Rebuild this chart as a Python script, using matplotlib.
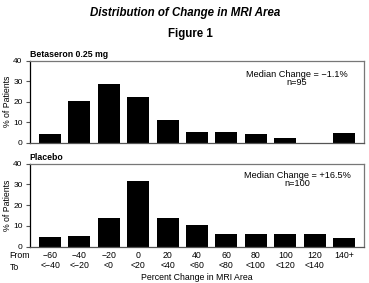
import matplotlib
matplotlib.use("Agg")
import matplotlib.pyplot as plt
from matplotlib import font_manager

fams = [f.name for f in font_manager.fontManager.ttflist]
narrow = 'Liberation Sans Narrow' if 'Liberation Sans Narrow' in fams else 'Liberation Sans'
plt.rcParams['font.family'] = [narrow, 'DejaVu Sans']

from_labels = ["\u221260", "\u221240", "\u221220", "0", "20", "40", "60", "80", "100", "120", "140+"]
to_labels = ["<\u221240", "<\u221220", "<0", "<20", "<40", "<60", "<80", "<100", "<120", "<140", ""]
betaseron = [4.2, 20.2, 28.5, 22.0, 11.0, 5.3, 5.3, 4.2, 2.3, 0, 4.6]
placebo = [4.5, 5.0, 13.8, 31.6, 13.8, 10.3, 6.1, 6.1, 6.1, 6.1, 4.2]
yticks = [0, 10, 20, 30, 40]
panels = [
    ("Betaseron 0.25 mg", betaseron, "Median Change = \u22121.1%\nn=95", 0.785),
    ("Placebo", placebo, "Median Change = +16.5%\nn=100", 0.81),
]

W, H = 369, 283
fig = plt.figure(figsize=(W / 100, H / 100), dpi=100)

fig.text(185 / W, 1 - 13 / H, "Distribution of Change in MRI Area", ha='center', va='center',
         fontsize=8.3, fontweight='bold', style='italic')
fig.text(190 / W, 1 - 34 / H, "Figure 1", ha='center', va='center', fontsize=8.3, fontweight='bold')

ax_boxes = [(60.5, 142.7), (163.5, 246.5)]
x0, x1 = 29.5, 364
xs = list(range(len(from_labels)))
axes = []
for (top, bot), (name, vals, med, my) in zip(ax_boxes, panels):
    ax = fig.add_axes([x0 / W, 1 - bot / H, (x1 - x0) / W, (bot - top) / H])
    ax.bar(xs, vals, width=0.75, color='black')
    ax.set_xlim(-0.7, 10.68)
    ax.set_ylim(0, 40)
    ax.set_yticks(yticks)
    ax.tick_params(axis='y', length=3, width=0.8, labelsize=6, pad=2, color='#555555')
    ax.tick_params(axis='x', length=0, labelsize=6.3, pad=3)
    for s in ax.spines.values():
        s.set_color('#777777')
        s.set_linewidth(0.9)
    ax.spines['left'].set_color('black')
    ax.spines['bottom'].set_color('#555555')
    fig.text(8 / W, 1 - (top + bot) / 2 / H, "% of Patients", rotation=90, ha='center',
             va='center', fontsize=6.3)
    ax.text(0.0, 1.02, name, transform=ax.transAxes, ha='left', va='bottom',
            fontsize=6.3, fontweight='bold')
    ax.text(0.80, my, med, transform=ax.transAxes, ha='center', va='center',
            fontsize=6.6, linespacing=0.9)
    axes.append(ax)

axes[0].set_xticks(xs)
axes[0].set_xticklabels([])
ax = axes[1]
ax.set_xticks(xs)
ax.set_xticklabels([f + "\n" + t for f, t in zip(from_labels, to_labels)], fontsize=6.3,
                   linespacing=1.25, va='top')
fig.text(19 / W, 1 - 256 / H, "From", ha='center', va='center', fontsize=6.3)
fig.text(14 / W, 1 - 267 / H, "To", ha='center', va='center', fontsize=6.3)
fig.text(197 / W, 1 - 278 / H, "Percent Change in MRI Area", ha='center', va='center', fontsize=6.3)

fig.savefig("out.png", dpi=100)
